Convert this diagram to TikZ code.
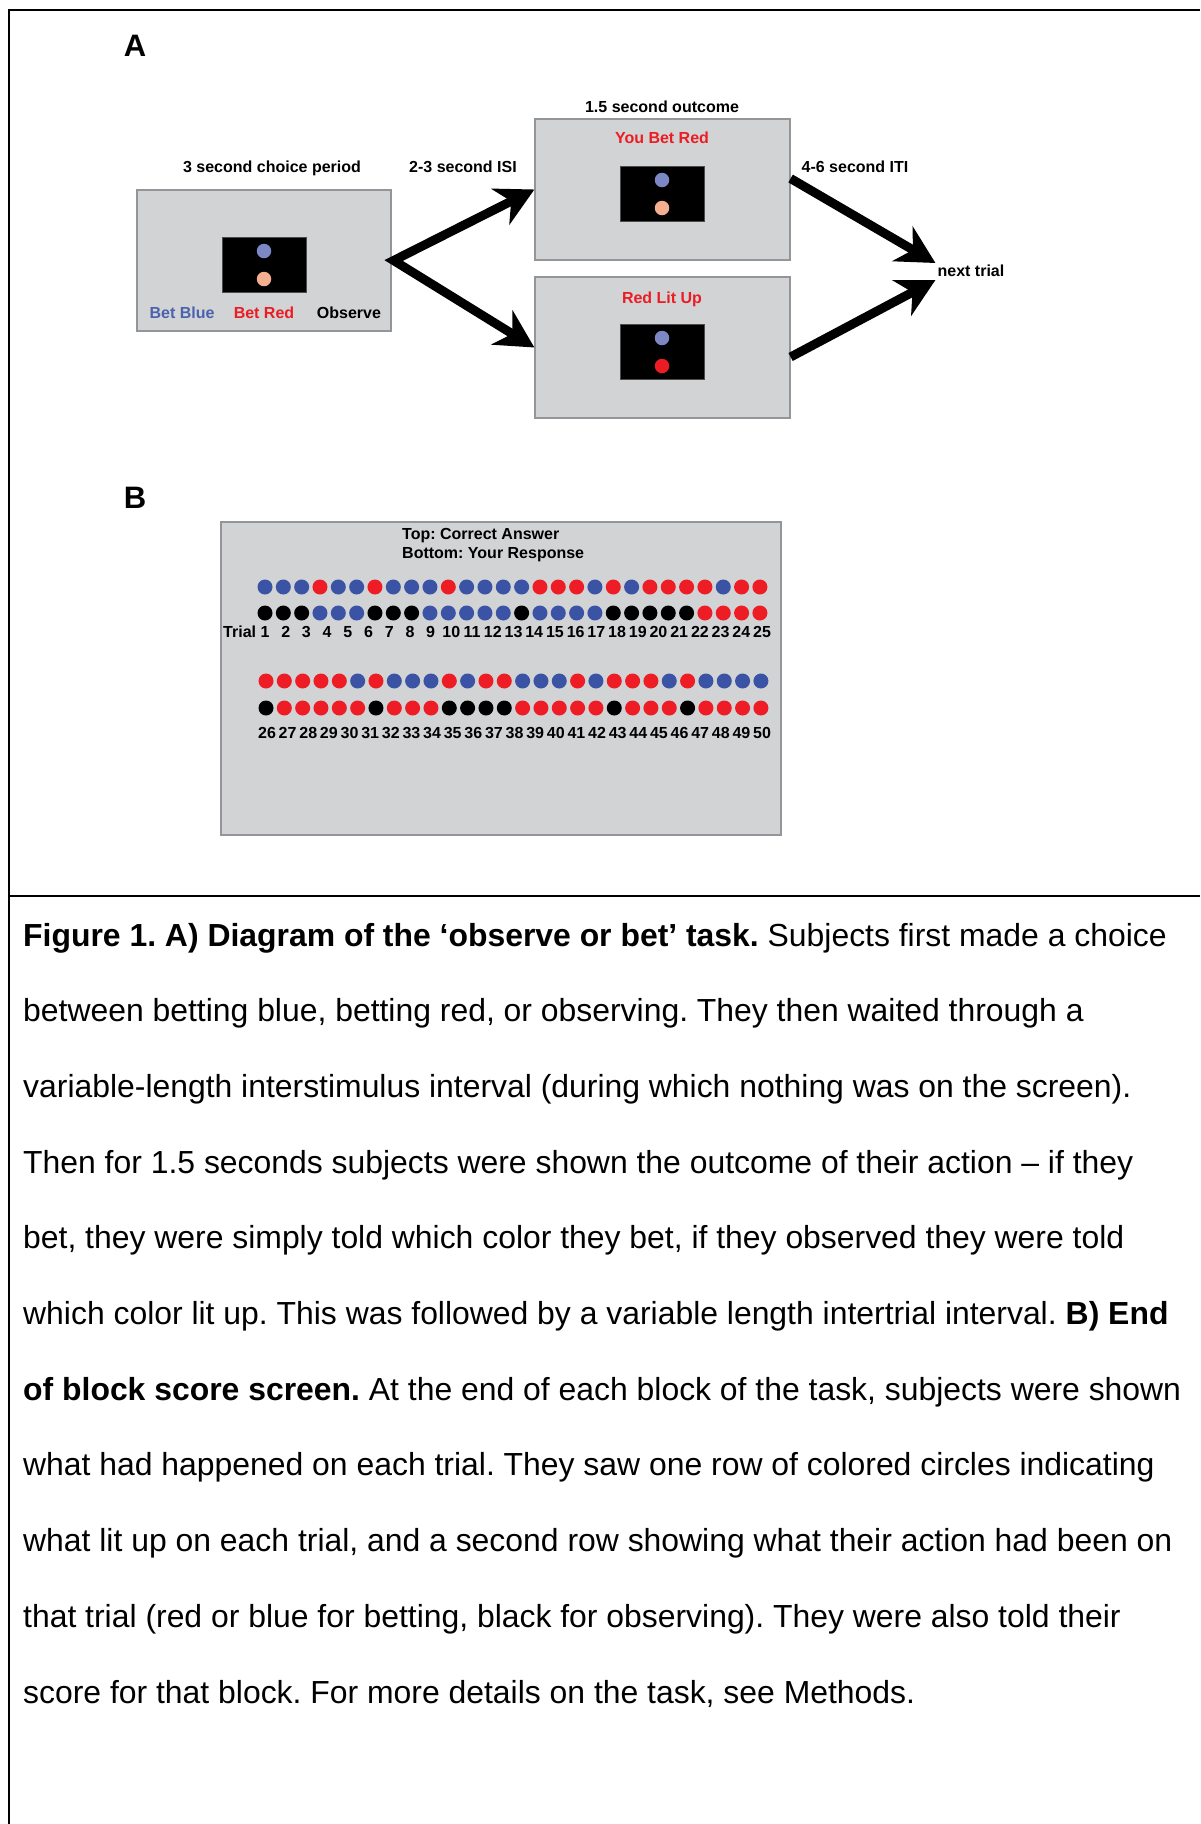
\documentclass[tikz,border=0pt]{standalone}
\usepackage{fontspec}
\setmainfont{Liberation Sans}
\usetikzlibrary{arrows.meta}
\definecolor{boxgray}{HTML}{D1D3D4}
\definecolor{boxline}{HTML}{939598}
\definecolor{dotblue}{HTML}{7C88C4}
\definecolor{dotpeach}{HTML}{F5AE8F}
\definecolor{dotred}{HTML}{EC1C24}
\definecolor{txtblue}{HTML}{4B62AE}
\definecolor{txtred}{HTML}{EC1C24}
\definecolor{colB}{HTML}{3A53A4}
\definecolor{colR}{HTML}{EE1C25}
\definecolor{colK}{HTML}{000000}
\frenchspacing
\begin{document}
\begin{tikzpicture}[x=1pt,y=-1pt,
  screenbox/.style={draw=boxline, line width=1.2pt, fill=boxgray, inner sep=0pt},
  monitor/.style={fill=black, draw=black!70, line width=0.8pt, inner sep=0pt, minimum width=84pt, minimum height=55pt},
  dotA/.style={circle, inner sep=0pt, minimum size=14.5pt},
  dotB/.style={circle, inner sep=0pt, minimum size=15pt},
  lab/.style={font=\bfseries\fontsize{16}{16}\selectfont, inner sep=0pt, text height=11.5pt, text depth=0pt},
  panellabel/.style={font=\bfseries\fontsize{31}{31}\selectfont, inner sep=0pt, text height=22pt, text depth=0pt},
  captext/.style={anchor=base west, inner sep=0pt, font=\fontsize{31.9}{38}\selectfont},
  bigarrow/.style={line width=9pt, -{Stealth[length=38pt,width=40pt,inset=12pt]}},
  framel/.style={line width=2.5pt},
]
\useasboundingbox[fill=white] (0,0) rectangle (1200,1824);

% frame
\coordinate (fTR) at (1200,10);
\coordinate (fTL) at (9,10);
\coordinate (fBL) at (9,1824);
\coordinate (dL) at (9,896);
\coordinate (dR) at (1200,896);
\draw[framel] (fTR) -- (fTL) -- (fBL);
\draw[framel] (dL) -- (dR);

% ---------- Panel A ----------
\node[panellabel] (pA) at (135,45) {A};

\node[lab] (tchoice) at (272,167) {3 second choice period};
\node[lab] (tisi) at (463,167) {2-3 second ISI};
\node[lab] (tout) at (662,107) {1.5 second outcome};
\node[lab] (titi) at (855,167) {4-6 second ITI};
\node[lab] (next) at (971,271) {next trial};

% choice screen
\node[screenbox, minimum width=254pt, minimum height=141pt] (choice) at (264,260.5) {};
\node[monitor] (cmon) at (264,264.5) {};
\node[dotA, fill=dotblue] (cd1) at (264,251) {};
\node[dotA, fill=dotpeach] (cd2) at (264,279) {};
\node[lab, text=txtblue] (bblue) at (182,313) {Bet Blue};
\node[lab, text=txtred] (bred) at (264,313) {Bet Red};
\node[lab] (bobs) at (349,313) {Observe};

% outcome screens
\node[screenbox, minimum width=255pt, minimum height=141pt] (top) at (662.5,189.5) {};
\node[lab, text=txtred] (ybr) at (662,138) {You Bet Red};
\node[monitor] (tmon) at (662,193.5) {};
\node[dotA, fill=dotblue] (td1) at (662,180) {};
\node[dotA, fill=dotpeach] (td2) at (662,208) {};

\node[screenbox, minimum width=255pt, minimum height=141pt] (bot) at (662.5,347.5) {};
\node[lab, text=txtred] (rlu) at (662,298) {Red Lit Up};
\node[monitor] (bmon) at (662,351.5) {};
\node[dotA, fill=dotblue] (bd1) at (662,338) {};
\node[dotA, fill=dotred] (bd2) at (662,366) {};

% arrows
\draw[line width=9pt, line join=miter,
  {Stealth[length=38pt,width=40pt,inset=12pt]}-{Stealth[length=38pt,width=40pt,inset=12pt]}]
  (top.west) -- ([xshift=2pt]choice.east) -- (bot.west);
\draw[bigarrow] ([yshift=11pt]top.east) -- ([xshift=-2pt,yshift=8pt]next.west);
\draw[bigarrow] ([yshift=-9.5pt]bot.east) -- ([xshift=-2pt,yshift=-9pt]next.west);

% ---------- Panel B ----------
\node[panellabel] (pB) at (135,497) {B};
\node[screenbox, minimum width=560pt, minimum height=313pt] (score) at (501,678.5) {};
\node[lab, anchor=west] (ttop) at (402,534) {Top: Correct Answer};
\node[lab, anchor=west] (tbot) at (402,553) {Bottom: Your Response};

\foreach \c [count=\i] in {B,B,B,R,B,B,R,B,B,B,R,B,B,B,B,R,R,R,B,R,B,R,R,R,R,B,R,R}
  \node[dotB, fill=col\c] (ra\i) at ({265+18.33*(\i-1)},587) {};
\foreach \c [count=\i] in {K,K,K,B,B,B,K,K,K,B,B,B,B,B,K,B,B,B,B,K,K,K,K,K,R,R,R,R}
  \node[dotB, fill=col\c] (rb\i) at ({265+18.33*(\i-1)},613) {};
\foreach \c [count=\i] in {R,R,R,R,R,B,R,B,B,B,R,B,R,R,B,B,B,R,B,R,R,R,B,R,B,B,B,B}
  \node[dotB, fill=col\c] (rc\i) at ({266+18.33*(\i-1)},681) {};
\foreach \c [count=\i] in {K,R,R,R,R,R,K,R,R,R,K,K,K,K,R,R,R,R,R,K,R,R,R,K,R,R,R,R}
  \node[dotB, fill=col\c] (rd\i) at ({266+18.33*(\i-1)},708) {};

\node[lab, anchor=west] (trial) at (223,632) {Trial};
\foreach \n [count=\i] in {1,...,25}
  \node[lab] (na\n) at ({265+20.71*(\i-1)},632) {\n};
\foreach \n [count=\i] in {26,...,50}
  \node[lab] (nb\n) at ({267+20.63*(\i-1)},733) {\n};

% ---------- Caption ----------
\node[captext] (c1) at (23,946) {\textbf{Figure 1. A) Diagram of the ‘observe or bet’ task.} Subjects first made a choice};
\node[captext] (c2) at (23,1021.7) {between betting blue, betting red, or observing. They then waited through a};
\node[captext] (c3) at (23,1097.4) {variable-length interstimulus interval (during which nothing was on the screen).};
\node[captext] (c4) at (23,1173.1) {Then for 1.5 seconds subjects were shown the outcome of their action – if they};
\node[captext] (c5) at (23,1248.8) {bet, they were simply told which color they bet, if they observed they were told};
\node[captext] (c6) at (23,1324.5) {which color lit up. This was followed by a variable length intertrial interval. \textbf{B) End}};
\node[captext] (c7) at (23,1400.2) {\textbf{of block score screen.} At the end of each block of the task, subjects were shown};
\node[captext] (c8) at (23,1475.9) {what had happened on each trial. They saw one row of colored circles indicating};
\node[captext] (c9) at (23,1551.6) {what lit up on each trial, and a second row showing what their action had been on};
\node[captext] (c10) at (23,1627.3) {that trial (red or blue for betting, black for observing). They were also told their};
\node[captext] (c11) at (23,1703.0) {score for that block. For more details on the task, see Methods.};
\end{tikzpicture}
\end{document}
